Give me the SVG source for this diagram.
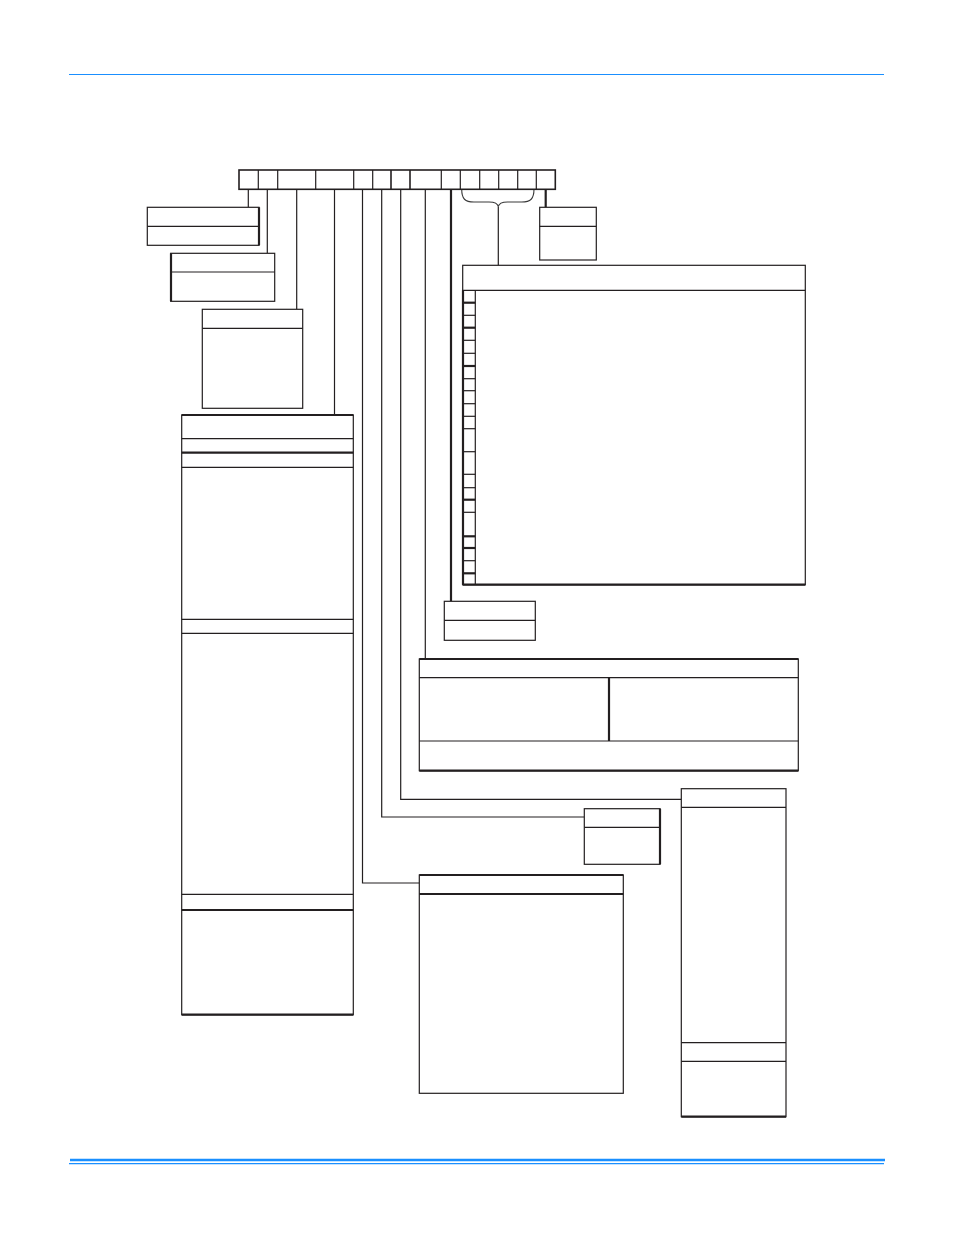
<svg xmlns="http://www.w3.org/2000/svg" width="954" height="1235" viewBox="0 0 954 1235">
<style>
.b{fill:#fff;stroke:#231f20;stroke-width:1.2}
.l{fill:none;stroke:#231f20;stroke-width:1.2}
.t{fill:none;stroke:#231f20;stroke-width:2.2}
.s{fill:none;stroke:#231f20;stroke-width:1.6}
.c{fill:none;stroke:#231f20;stroke-width:1.2}
.ct{fill:none;stroke:#231f20;stroke-width:2.2}
.blue{stroke:#1a8fff;fill:none}
</style>
<rect width="954" height="1235" fill="#fff"/>
<g id="rules">
<line class="blue" x1="69" y1="74.5" x2="884" y2="74.5" stroke-width="1.2"/>
<line class="blue" x1="70" y1="1160" x2="885" y2="1160" stroke-width="2.5"/>
<line class="blue" x1="69" y1="1163.7" x2="884" y2="1163.7" stroke-width="1.2"/>
</g>
<g id="connectors">
<line class="c" x1="248.3" y1="189" x2="248.3" y2="207.3"/>
<line class="c" x1="267.3" y1="189" x2="267.3" y2="253.3"/>
<line class="c" x1="296.7" y1="189" x2="296.7" y2="309.3"/>
<line class="c" x1="334.5" y1="189" x2="334.5" y2="415"/>
<polyline class="c" points="362.5,189 362.5,883 419.3,883"/>
<polyline class="c" points="381.7,189 381.7,817 584.3,817"/>
<polyline class="c" points="400.7,189 400.7,799.3 681.3,799.3"/>
<line class="c" x1="425.3" y1="189" x2="425.3" y2="659"/>
<line class="ct" x1="451" y1="189" x2="451" y2="601.3"/>
<line class="ct" x1="545.7" y1="189" x2="545.7" y2="207.3"/>
<path fill="none" stroke="#3a3a3a" stroke-width="1.1" d="M461.7,189 C461.7,199 465,202 474,202 L489,202 C495,202 497.8,203.5 498.3,206.7 C498.8,203.5 501.6,202 507.6,202 L521.6,202 C530.6,202 534,199 534,189"/>
<line class="c" x1="498.3" y1="206.7" x2="498.3" y2="265.3"/>
</g>
<g id="strip">
<rect class="s" x="239" y="170" width="316.3" height="19.3"/>
<g class="l">
<line x1="258.3" y1="170" x2="258.3" y2="189.3"/>
<line x1="277.7" y1="170" x2="277.7" y2="189.3"/>
<line x1="315.7" y1="170" x2="315.7" y2="189.3"/>
<line x1="353.7" y1="170" x2="353.7" y2="189.3"/>
<line x1="372.7" y1="170" x2="372.7" y2="189.3"/>
<line x1="441.3" y1="170" x2="441.3" y2="189.3"/>
<line x1="460.3" y1="170" x2="460.3" y2="189.3"/>
<line x1="479.7" y1="170" x2="479.7" y2="189.3"/>
<line x1="498.7" y1="170" x2="498.7" y2="189.3"/>
<line x1="517.7" y1="170" x2="517.7" y2="189.3"/>
<line x1="536.3" y1="170" x2="536.3" y2="189.3"/>
</g>
<line class="s" x1="391" y1="170" x2="391" y2="189.3"/>
<line class="s" x1="410" y1="170" x2="410" y2="189.3"/>
</g>
<g id="box1">
<rect class="b" x="147.3" y="207.3" width="111.7" height="38"/>
<line class="l" x1="147.3" y1="226.3" x2="259" y2="226.3"/>
<line class="t" x1="259" y1="207.3" x2="259" y2="245.3"/>
</g>
<g id="box2">
<rect class="b" x="170.7" y="253.3" width="104" height="48"/>
<line class="l" x1="170.7" y1="272" x2="274.7" y2="272"/>
<line class="t" x1="171" y1="253.3" x2="171" y2="301.3"/>
</g>
<g id="box3">
<rect class="b" x="202.3" y="309.3" width="100.4" height="99"/>
<line class="l" x1="202.3" y1="328.3" x2="302.7" y2="328.3"/>
</g>
<g id="box4">
<rect class="b" x="181.7" y="415" width="171.6" height="599.7"/>
<line class="t" x1="181.7" y1="415" x2="353.3" y2="415"/>
<line class="l" x1="181.7" y1="438.7" x2="353.3" y2="438.7"/>
<line class="t" x1="181.7" y1="452.7" x2="353.3" y2="452.7"/>
<line class="l" x1="181.7" y1="467.3" x2="353.3" y2="467.3"/>
<line class="l" x1="181.7" y1="619.3" x2="353.3" y2="619.3"/>
<line class="l" x1="181.7" y1="633.3" x2="353.3" y2="633.3"/>
<line class="l" x1="181.7" y1="894.3" x2="353.3" y2="894.3"/>
<line class="t" x1="181.7" y1="910" x2="353.3" y2="910"/>
<line class="t" x1="181.7" y1="1014.7" x2="353.3" y2="1014.7"/>
</g>
<g id="box5">
<rect class="b" x="539.7" y="207.3" width="56.6" height="52.7"/>
<line class="l" x1="539.7" y1="226.3" x2="596.3" y2="226.3"/>
</g>
<g id="box6">
<rect class="b" x="462.7" y="265.3" width="342.6" height="319.4"/>
<line class="l" x1="462.7" y1="290.3" x2="805.3" y2="290.3"/>
<line class="t" x1="463" y1="290.3" x2="463" y2="584.7"/>
<line class="t" x1="462.7" y1="584.7" x2="805.3" y2="584.7"/>
<line class="l" x1="475.3" y1="290.3" x2="475.3" y2="584.7"/>
<g class="l">
<line x1="463" y1="315.3" x2="475.3" y2="315.3"/>
<line x1="463" y1="340.3" x2="475.3" y2="340.3"/>
<line x1="463" y1="353.3" x2="475.3" y2="353.3"/>
<line x1="463" y1="378.7" x2="475.3" y2="378.7"/>
<line x1="463" y1="390.7" x2="475.3" y2="390.7"/>
<line x1="463" y1="403.7" x2="475.3" y2="403.7"/>
<line x1="463" y1="416.3" x2="475.3" y2="416.3"/>
<line x1="463" y1="428.7" x2="475.3" y2="428.7"/>
<line x1="463" y1="451.7" x2="475.3" y2="451.7"/>
<line x1="463" y1="474.3" x2="475.3" y2="474.3"/>
<line x1="463" y1="487.7" x2="475.3" y2="487.7"/>
<line x1="463" y1="512.3" x2="475.3" y2="512.3"/>
<line x1="463" y1="560.7" x2="475.3" y2="560.7"/>
</g>
<g class="t">
<line x1="463" y1="302.7" x2="475.3" y2="302.7"/>
<line x1="463" y1="327.7" x2="475.3" y2="327.7"/>
<line x1="463" y1="366" x2="475.3" y2="366"/>
<line x1="463" y1="499.7" x2="475.3" y2="499.7"/>
<line x1="463" y1="536.3" x2="475.3" y2="536.3"/>
<line x1="463" y1="548" x2="475.3" y2="548"/>
<line x1="463" y1="573.3" x2="475.3" y2="573.3"/>
</g>
</g>
<g id="box7">
<rect class="b" x="444.3" y="601.3" width="91" height="39"/>
<line class="l" x1="444.3" y1="620.3" x2="535.3" y2="620.3"/>
</g>
<g id="box8">
<rect class="b" x="419.3" y="659" width="379" height="111.7"/>
<line class="t" x1="419.3" y1="659" x2="798.3" y2="659"/>
<line class="l" x1="419.3" y1="677.7" x2="798.3" y2="677.7"/>
<line class="t" x1="609" y1="677.7" x2="609" y2="741"/>
<line class="l" x1="419.3" y1="741" x2="798.3" y2="741"/>
<line class="t" x1="419.3" y1="770.7" x2="798.3" y2="770.7"/>
</g>
<g id="box9">
<rect class="b" x="681.3" y="788.7" width="104.7" height="328"/>
<line class="l" x1="681.3" y1="807.3" x2="786" y2="807.3"/>
<line class="l" x1="681.3" y1="1042.7" x2="786" y2="1042.7"/>
<line class="l" x1="681.3" y1="1061.3" x2="786" y2="1061.3"/>
<line class="t" x1="681.3" y1="1116.7" x2="786" y2="1116.7"/>
</g>
<g id="box10">
<rect class="b" x="584.3" y="808.7" width="75.7" height="55.6"/>
<line class="l" x1="584.3" y1="827.3" x2="660" y2="827.3"/>
<line class="t" x1="660" y1="808.7" x2="660" y2="864.3"/>
</g>
<g id="box11">
<rect class="b" x="419.3" y="875" width="204" height="218.3"/>
<line class="t" x1="419.3" y1="875" x2="623.3" y2="875"/>
<line class="t" x1="419.3" y1="894" x2="623.3" y2="894"/>
</g>
</svg>
